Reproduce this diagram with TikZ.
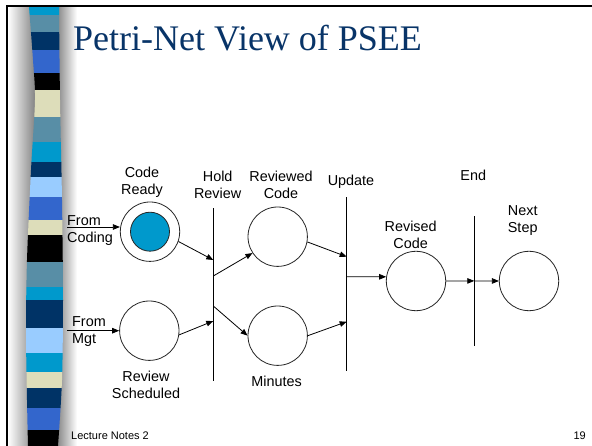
\documentclass[tikz,border=0pt]{standalone}
\usepackage{fontspec}
\setmainfont{Liberation Serif}
\newfontfamily\arialfont{Liberation Sans}
\usetikzlibrary{arrows.meta, calc}

\definecolor{titleblue}{RGB}{8,52,104}
\definecolor{tokenblue}{RGB}{0,153,204}
\definecolor{scyan}{RGB}{0,153,204}
\definecolor{ssteel}{RGB}{88,142,166}
\definecolor{snavy}{RGB}{0,51,102}
\definecolor{sroyal}{RGB}{51,102,204}
\definecolor{sbeige}{RGB}{221,221,186}
\definecolor{slight}{RGB}{153,204,255}

\begin{document}
\begin{tikzpicture}[
    x=1pt, y=-1pt,
    place/.style={circle, draw=black!85, line width=0.8pt, minimum size=59.4pt, inner sep=0pt},
    token/.style={circle, draw=black!85, line width=0.8pt, fill=tokenblue, minimum size=39pt, inner sep=0pt},
    trans/.style={rectangle, fill=black, minimum width=1.3pt, inner sep=0pt, minimum height=#1},
    arrow/.style={-{Triangle[length=7pt, width=5.5pt]}, line width=0.8pt, black},
    lbl/.style={font=\arialfont\fontsize{14.4}{17}\selectfont, align=center, inner sep=0pt},
    foot/.style={font=\arialfont\fontsize{11}{13}\selectfont, inner sep=0pt, anchor=base west}
]
\useasboundingbox (0,0) rectangle (592,446);
\fill[white] (0,0) rectangle (592,446);

% Slide frame and striped band
\shade[left color=white, right color=black!50] (8,7) rectangle (36,446);
\shade[left color=black!50, right color=white] (56,7) rectangle (77,446);
\begin{scope}
\clip plot[smooth] coordinates {(29,7) (33,60) (35,100) (31,170) (27,260) (26,330) (27,400) (28,446)}
  -- plot[smooth] coordinates {(58,446) (62,380) (63,300) (62,200) (60,100) (59,7)} -- cycle;
\foreach \ya/\yb/\c in {7/15/scyan, 15/32/ssteel, 32/50/snavy, 50/73/sroyal, 73/90/black,
    90/117/sbeige, 117/142/ssteel, 142/162/scyan, 162/177/snavy, 177/197/slight,
    197/220/sroyal, 220/235/sbeige, 235/262/black, 262/287/ssteel, 287/300/scyan,
    300/328/snavy, 328/353/slight, 353/372/scyan, 372/388/sbeige, 388/408/snavy,
    408/430/sroyal, 430/446/black}
  \fill[\c] (20,\ya) rectangle (70,{\yb+0.4});
\end{scope}
\draw[line width=2pt] (6.5,446) -- (6.5,6) -- (592,6);

% Title and footer
\node[anchor=base west, inner sep=0pt, font=\fontsize{36}{40}\selectfont, text=titleblue] (title) at (73,51) {Petri-Net View of PSEE};
\node[foot] (lnotes) at (71,439) {Lecture Notes 2};
\node[foot, anchor=base east] (pageno) at (586,439) {19};

% Places
\node[place] (ready) at (150,231.7) {};
\node[token] (readytok) at (ready) {};
\node[place] (sched) at (149.3,330.7) {};
\node[place] (rev) at (277.7,236.7) {};
\node[place] (mins) at (277.7,335.7) {};
\node[place] (revised) at (416,281) {};
\node[place] (next) at (529,281) {};

% Transitions
\node[trans=173pt] (hold) at (213.3,294.2) {};
\node[trans=173.4pt] (update) at (346.7,284) {};
\node[trans=129.7pt] (endt) at (474.3,280.9) {};

% Labels
\node[lbl] (lready) at (142,182.5) {Code\\Ready};
\node[lbl] (lhold) at (217.7,184.5) {Hold\\Review};
\node[lbl] (lrev) at (281,185) {Reviewed\\Code};
\node[lbl, anchor=base] (lupdate) at (351,185.5) {Update};
\node[lbl, anchor=base] (lend) at (473.3,180.5) {End};
\node[lbl] (lrevised) at (410.7,235) {Revised\\Code};
\node[lbl] (lnext) at (522.7,221) {Next\\Step};
\node[lbl, align=left, anchor=west] (lcoding) at (67,231) {From\\Coding};
\node[lbl, align=left, anchor=west] (lmgt) at (72,332) {From\\Mgt};
\node[lbl] (lsched) at (146,385) {Review\\Scheduled};
\node[lbl, anchor=base] (lmins) at (276.7,387) {Minutes};

% Arrows
\coordinate (incode) at (67,227);
\coordinate (inmgt) at (67,330.7);
\draw[arrow] (incode) -- (incode -| ready.west);
\draw[arrow] (inmgt) -- (sched.west);
\draw[arrow] (ready.-19) -- ([yshift=34.2pt]hold.center);
\draw[arrow] (sched.-8) -- ([yshift=-26.8pt]hold.center);
\draw[arrow] ([yshift=18.2pt]hold.center) -- (rev.213);
\draw[arrow] ([yshift=-11.8pt]hold.center) -- (mins.west);
\draw[arrow] (rev.-10) -- ([yshift=27.3pt]update.center);
\draw[arrow] (mins.east) -- ([yshift=-37.7pt]update.center);
\draw[arrow] ([yshift=7.3pt]update.center) -- (revised.172);
\draw[arrow] (revised.east) -- (endt.center);
\draw[arrow] (endt.center) -- (next.west);

\end{tikzpicture}
\end{document}
